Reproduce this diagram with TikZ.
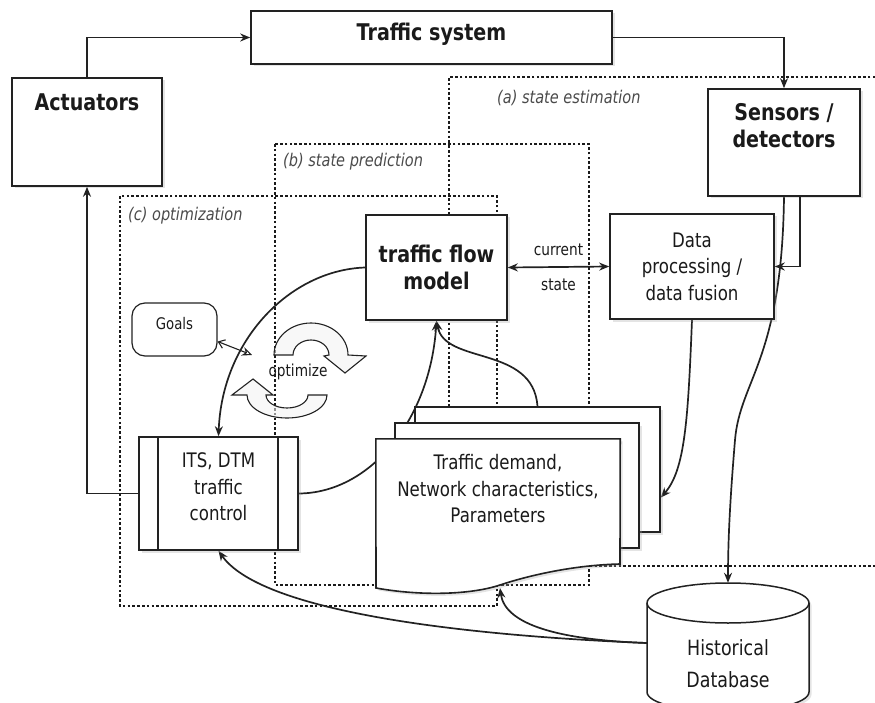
\documentclass[tikz,border=0pt]{standalone}
\usepackage{fontspec}
\setmainfont{DejaVu Sans}[FakeStretch=0.83]
\usetikzlibrary{arrows.meta,shadows,backgrounds}

\definecolor{ink}{HTML}{222222}
\definecolor{txt}{HTML}{1A1A1A}
\definecolor{lbl}{HTML}{4A4A4A}

\tikzset{
  softshadow/.style={drop shadow={shadow xshift=2.5pt, shadow yshift=-2.5pt, opacity=0.3, fill=black!35}},
  box/.style={draw=ink, line width=1.6pt, fill=white, inner sep=0pt, softshadow},
  bigtxt/.style={font=\fontsize{23}{27}\selectfont\bfseries, text=txt, align=center},
  midtxt/.style={font=\fontsize{20}{26.5}\selectfont, text=txt, align=center},
  smalltxt/.style={font=\fontsize{16.5}{19}\selectfont, text=txt},
  zonelbl/.style={font=\fontsize{17.5}{20}\selectfont\itshape, text=lbl, anchor=west, inner sep=0pt},
  zone/.style={draw=txt, line width=2.6pt, dash pattern=on 2.6pt off 2.2pt},
  conn/.style={draw=ink, line width=1.7pt},
  tip/.style={-{Stealth[length=10pt,width=8pt]}},
  page/.style={draw=ink, line width=1.6pt, fill=white, softshadow},
  cyc/.style={draw=ink, line width=1.1pt, fill=gray!10, fill opacity=0.55},
}

\begin{document}
\begin{tikzpicture}[x=1pt, y=-1pt]
\useasboundingbox (0,0) rectangle (875,703);
\clip (0,0) rectangle (875,703);

% ---------- main blocks ----------
\node[box, minimum width=361, minimum height=53] (ts) at (431.5,37.5) {};
\node[bigtxt] (tstxt) at (431.5,34) {Traffic system};

\node[box, minimum width=150, minimum height=108] (act) at (87,132) {};
\node[bigtxt, anchor=north] (acttxt) at ([yshift=-13pt]act.north) {Actuators};

\node[box, minimum width=152, minimum height=107] (sens) at (784,142.5) {};
\node[bigtxt, anchor=north] (senstxt) at ([yshift=-12pt]sens.north) {Sensors /\\detectors};

% ---------- zones ----------
\begin{scope}[on background layer]
  \draw[zone] (880,77) -- (449,77) -- (449,566) -- (880,566);
  \draw[zone] (275,144) rectangle (589,585);
  \draw[zone] (120,196) rectangle (497,606);
\end{scope}
\node[zonelbl] (zla) at (497,98) {(a) state estimation};
\node[zonelbl] (zlb) at (283,162) {(b) state prediction};
\node[zonelbl] (zlc) at (128,216) {(c) optimization};

% ---------- inner blocks ----------
\node[box, bigtxt, minimum width=141, minimum height=105] (tfm) at (436.5,267.5) {traffic flow\\model};
\node[box, midtxt, minimum width=164, minimum height=105] (data) at (692,266.5) {Data\\processing /\\data fusion};

\node[box, minimum width=159, minimum height=113] (its) at (218.5,493.5) {};
\draw[ink, line width=1.6pt] ([xshift=20pt]its.north west) -- ([xshift=20pt]its.south west)
                             ([xshift=-21pt]its.north east) -- ([xshift=-21pt]its.south east);
\node[midtxt] (itstxt) at (218.5,487) {ITS, DTM\\traffic\\control};

\node[draw=ink, line width=1.2pt, rounded corners=13pt, minimum width=85, minimum height=53,
      font=\fontsize{16}{18}\selectfont, text=txt, text depth=12pt] (goals) at (174.5,329.5) {Goals};
\coordinate (gtip) at (252,355);

% stacked document pages
\node[page, minimum width=245, minimum height=125] (pg3) at (537.5,469.5) {};
\node[page, minimum width=244, minimum height=125] (pg2) at (517,485.5) {};
\node[minimum width=244, minimum height=149, inner sep=0pt] (dem) at (498,513.5) {};
\draw[page] (dem.north west) -- (dem.north east) -- (620,564)
  .. controls (575,565) and (530,575) .. (500,585)
  .. controls (470,595) and (420,596) .. (376,588) -- cycle;
\node[midtxt] (demtxt) at (498,489) {Traffic demand,\\Network characteristics,\\Parameters};
\coordinate (dembot) at (500,588);

% historical database cylinder
\node[minimum width=162, minimum height=120, inner sep=0pt] (db) at (728,643) {};
\draw[ink, line width=1.5pt, fill=white, softshadow]
  (647,603) -- (647,692) arc[start angle=180, end angle=0, x radius=81, y radius=20]
  -- (809,603) arc[start angle=0, end angle=-180, x radius=81, y radius=20] -- cycle;
\draw[ink, line width=1.5pt] (647,603) arc[start angle=180, end angle=0, x radius=81, y radius=20];
\node[font=\fontsize{21}{32}\selectfont, text=txt, align=center] (dbtxt) at (728,664) {Historical\\Database};

% optimisation cycle arrows
\draw[cyc] (274,355) arc[start angle=180, end angle=360, x radius=37, y radius=32]
  -- (366,356) -- (345,373) -- (324,356) -- (329,355)
  arc[start angle=360, end angle=180, x radius=18, y radius=15] -- cycle;
\draw[cyc] (327,395) arc[start angle=0, end angle=180, x radius=40, y radius=23]
  -- (232,395) -- (253,379) -- (273,395) -- (266,395)
  arc[start angle=180, end angle=0, x radius=21, y radius=13] -- cycle;
\node[smalltxt] (opt) at (298,372) {optimize};

% ---------- connectors ----------
\draw[conn, tip] (act.north) |- (ts.west);
\draw[conn, tip] (ts.east) -| (sens.north);
\draw[conn, {Stealth[length=10pt,width=8pt]}-{Stealth[length=10pt,width=8pt]}] (tfm.east) -- (data.west)
  node[smalltxt, midway, above=7pt] (cur) {current}
  node[smalltxt, midway, below=8pt] (st) {state};
\draw[conn, tip] ([xshift=16pt]sens.south) |- (data.east);
\draw[conn, tip] (its.west) -| (act.south);
\draw[conn, {Straight Barb[length=6pt,width=9pt]}-{Stealth[open,length=10pt,width=9pt]}, line width=1.1pt]
  ([yshift=-12pt]goals.east) -- (gtip);

\begin{scope}[on background layer]
  \draw[conn, tip] (tfm.west) .. controls (290,270) and (222,340) .. (its.north);
  \draw[conn, tip] (its.east) .. controls (370,493) and (430,420) .. (tfm.south);
  \draw[conn, tip] (pg3.north) .. controls (533,345) and (445,365) .. (tfm.south);
  \draw[conn, tip] (data.south) .. controls (688,420) and (685,470) .. ([yshift=-28pt]pg3.east);
  \draw[conn, tip] (sens.south) .. controls (782,360) and (740,380) .. (735,440)
    .. controls (730,500) and (728,540) .. (db.north);
  \draw[conn, tip] (db.west) .. controls (450,635) and (260,610) .. (its.south);
  \draw[conn, tip] (db.west) .. controls (560,640) and (505,625) .. (dembot);
\end{scope}
\end{tikzpicture}
\end{document}
